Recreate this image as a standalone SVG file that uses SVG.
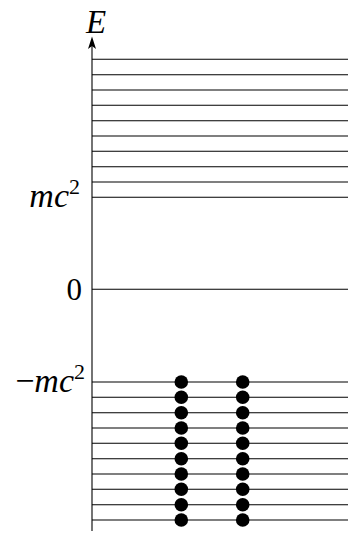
<svg xmlns="http://www.w3.org/2000/svg" width="348" height="539" viewBox="0 0 348 539">
<defs>
<style>
.lvl{stroke:#000;stroke-width:1.1}
.ax{stroke:#000;stroke-width:1.1;fill:none}
.t{font-family:"Liberation Serif","DejaVu Serif",serif;font-size:34px;fill:#000}
.i{font-style:italic}
.s{font-size:22px}
.dot{fill:#000}
</style>
</defs>
<rect width="348" height="539" fill="#fff"/>
<g id="connectors">
<line class="ax" x1="92" y1="531" x2="92" y2="40"/>
<path d="M92,36.5 L96,49 L92,46 L88,49 Z" fill="#000"/>
<g id="upper-levels">
<line class="lvl" x1="92" y1="59.3" x2="348" y2="59.3"/>
<line class="lvl" x1="92" y1="74.7" x2="348" y2="74.7"/>
<line class="lvl" x1="92" y1="90" x2="348" y2="90"/>
<line class="lvl" x1="92" y1="105.3" x2="348" y2="105.3"/>
<line class="lvl" x1="92" y1="120.7" x2="348" y2="120.7"/>
<line class="lvl" x1="92" y1="136" x2="348" y2="136"/>
<line class="lvl" x1="92" y1="151.3" x2="348" y2="151.3"/>
<line class="lvl" x1="92" y1="166.7" x2="348" y2="166.7"/>
<line class="lvl" x1="92" y1="182" x2="348" y2="182"/>
<line class="lvl" x1="92" y1="197.3" x2="348" y2="197.3"/>
</g>
<line id="zero-level" class="lvl" x1="92" y1="289.3" x2="348" y2="289.3"/>
<g id="lower-levels">
<line class="lvl" x1="92" y1="382" x2="348" y2="382"/>
<line class="lvl" x1="92" y1="397.3" x2="348" y2="397.3"/>
<line class="lvl" x1="92" y1="412.7" x2="348" y2="412.7"/>
<line class="lvl" x1="92" y1="428" x2="348" y2="428"/>
<line class="lvl" x1="92" y1="443.3" x2="348" y2="443.3"/>
<line class="lvl" x1="92" y1="458.7" x2="348" y2="458.7"/>
<line class="lvl" x1="92" y1="474" x2="348" y2="474"/>
<line class="lvl" x1="92" y1="489.3" x2="348" y2="489.3"/>
<line class="lvl" x1="92" y1="504.7" x2="348" y2="504.7"/>
<line class="lvl" x1="92" y1="520" x2="348" y2="520"/>
</g>
</g>
<g id="labels">
<text class="t i" x="96" y="33" text-anchor="middle" style="font-size:33px">E</text>
<text class="t" x="80" y="207" text-anchor="end"><tspan class="i">mc</tspan><tspan class="s" dy="-13">2</tspan></text>
<text class="t" x="82" y="300" text-anchor="end" style="font-size:31px">0</text>
<text class="t" x="85" y="392" text-anchor="end">−<tspan class="i">mc</tspan><tspan class="s" dy="-13">2</tspan></text>
</g>
<g id="electrons">
<g id="col1">
<circle class="dot" cx="181.3" cy="382" r="6.8"/>
<circle class="dot" cx="181.3" cy="397.3" r="6.8"/>
<circle class="dot" cx="181.3" cy="412.7" r="6.8"/>
<circle class="dot" cx="181.3" cy="428" r="6.8"/>
<circle class="dot" cx="181.3" cy="443.3" r="6.8"/>
<circle class="dot" cx="181.3" cy="458.7" r="6.8"/>
<circle class="dot" cx="181.3" cy="474" r="6.8"/>
<circle class="dot" cx="181.3" cy="489.3" r="6.8"/>
<circle class="dot" cx="181.3" cy="504.7" r="6.8"/>
<circle class="dot" cx="181.3" cy="520" r="6.8"/>
</g>
<g id="col2">
<circle class="dot" cx="242.7" cy="382" r="6.8"/>
<circle class="dot" cx="242.7" cy="397.3" r="6.8"/>
<circle class="dot" cx="242.7" cy="412.7" r="6.8"/>
<circle class="dot" cx="242.7" cy="428" r="6.8"/>
<circle class="dot" cx="242.7" cy="443.3" r="6.8"/>
<circle class="dot" cx="242.7" cy="458.7" r="6.8"/>
<circle class="dot" cx="242.7" cy="474" r="6.8"/>
<circle class="dot" cx="242.7" cy="489.3" r="6.8"/>
<circle class="dot" cx="242.7" cy="504.7" r="6.8"/>
<circle class="dot" cx="242.7" cy="520" r="6.8"/>
</g>
</g>
</svg>
